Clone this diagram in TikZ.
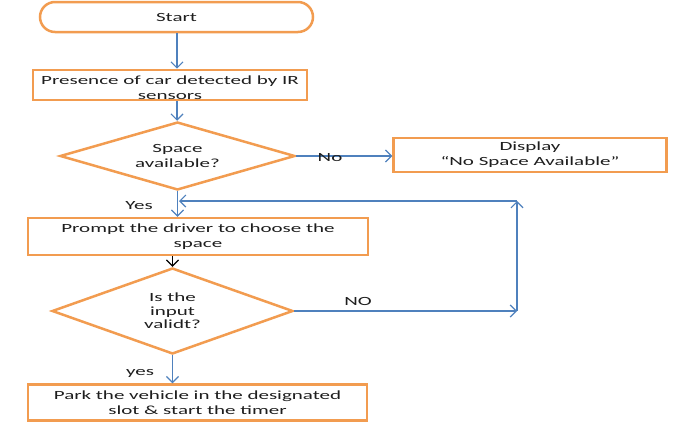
\documentclass[tikz,border=0pt]{standalone}
\usepackage{fontspec}
\setmainfont[FakeStretch=1.68]{Carlito}
\usetikzlibrary{shapes.geometric,shapes.misc,arrows.meta}
\definecolor{boxorange}{RGB}{242,156,80}
\definecolor{arrowblue}{RGB}{79,129,189}
\definecolor{txt}{RGB}{30,30,30}
\begin{document}
\begin{tikzpicture}[x=1pt,y=-1pt, font=\fontsize{12.5}{15}\selectfont, text=txt,
  box/.style={draw=boxorange, line width=2.5pt, fill=white, rectangle, inner sep=0pt, align=center},
  dec/.style={draw=boxorange, line width=2.5pt, fill=white, diamond, inner sep=0pt, align=center},
  arr/.style={draw=arrowblue, line width=1.2pt, -{Straight Barb[length=6pt,width=12pt]}},
  lbl/.style={inner sep=0pt}]
\useasboundingbox (0,0) rectangle (693,431);
\node[box, rounded rectangle, minimum width=273pt, minimum height=30pt] (start) at (176.5,17) {Start};
\node[box, minimum width=274pt, minimum height=30pt] (r1) at (170,85) {\rule{0pt}{15pt}Presence of car detected by IR\\sensors};
\node[dec, aspect=3.45, minimum width=235pt, minimum height=68pt] (d1) at (177.5,156) {Space\\available?};
\node[box, minimum width=273pt, minimum height=34pt] (disp) at (530,155) {Display\\“No Space Available”};
\node[box, minimum width=340pt, minimum height=37pt] (r2) at (198,236.5) {Prompt the driver to choose the\\space};
\node[dec, aspect=2.8, minimum width=241pt, minimum height=86pt, font=\fontsize{12.5}{13.5}\selectfont] (d2) at (172.5,311) {Is the\\input\\validt?};
\node[box, minimum width=339pt, minimum height=36pt] (r3) at (197.5,402.5) {Park the vehicle in the designated\\slot \& start the timer};
\coordinate (tx) at (177,0);
\coordinate (fbR) at (517,311);
\coordinate (fbT) at (517,201);
\coordinate (fbL) at (179,201);
\draw[arr] (start.south -| tx) -- (r1.north -| tx);
\draw[arr] (r1.south -| tx) -- (d1.north -| tx);
\draw[arr] (d1.east) -- (disp.west |- d1.east);
\draw[arr] (d1.south) -- (d1.south |- r2.north);
\draw[arr, draw=black] (d2.north |- r2.south) -- (d2.north);
\draw[arr] (d2.south) -- (d2.south |- r3.north);
\draw[arr] (d2.east) -- (fbR);
\draw[arr] (fbR) -- (fbT);
\draw[arr] (fbT) -- (fbL);
\node[lbl] (no1) at (330,158) {No};
\node[lbl] (yes1) at (139,206) {Yes};
\node[lbl] (no2) at (358,301) {NO};
\node[lbl] (yes2) at (140,373) {yes};
\end{tikzpicture}
\end{document}
